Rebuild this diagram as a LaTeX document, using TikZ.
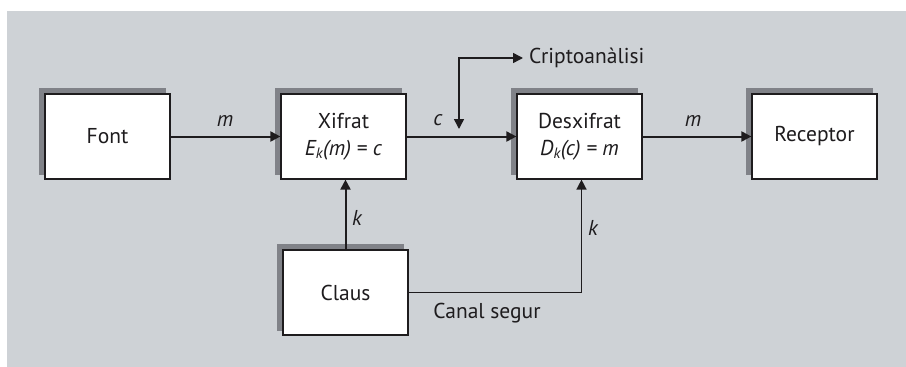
\documentclass[tikz,border=0pt]{standalone}
\usepackage{fontspec}
\setmainfont{PT Sans}
\usetikzlibrary{arrows.meta,backgrounds,calc}
\definecolor{bgc}{RGB}{206,210,214}
\definecolor{shc}{RGB}{128,130,136}
\definecolor{ink}{RGB}{30,28,30}
\begin{document}
\begin{tikzpicture}[x=1pt,y=-1pt,
  box/.style={draw=ink,line width=1.2pt,fill=white,minimum width=125pt,minimum height=85pt,inner sep=0pt,align=center,font=\fontsize{21.5}{27}\selectfont,text=ink},
  lbl/.style={font=\fontsize{21.5}{24}\selectfont\itshape,text=ink,inner sep=0pt},
  txt/.style={font=\fontsize{21.5}{24}\selectfont,text=ink,inner sep=0pt},
  arr/.style={draw=ink,line width=2pt,-{Triangle[length=10pt,width=10pt]}},
  ln/.style={draw=ink,line width=1.5pt}]
\useasboundingbox (0,0) rectangle (906,367);
\node[box] (font) at (107.5,136.5) {Font};
\node[box] (xif) at (343.5,136.5) {Xifrat\\\textit{E\textsubscript{k}(m) = c}};
\node[box] (desx) at (579.5,136.5) {Desxifrat\\\textit{D\textsubscript{k}(c) = m}};
\node[box] (rec) at (814.5,136.5) {Receptor};
\node[box] (claus) at (345.5,292.5) {Claus};
\begin{scope}[on background layer]
  \fill[bgc] (7,11) rectangle (906,367);
  \foreach \b in {font,xif,desx,rec,claus}{
    \fill[shc] ($(\b.north west)+(-5,-5)$) rectangle ($(\b.south east)+(-5,-5)$);
  }
\end{scope}
\node[txt,anchor=west] (cr) at (529,58) {Criptoanàlisi};
\coordinate (cd) at (459,129);
\coordinate (cj) at (459,58);
\draw[arr,line width=1.5pt] (cj) -- (cd);
\draw[arr,line width=1.5pt] ([xshift=-0.7pt]cj) -- ([xshift=-6pt]cr.west);
\draw[arr] (font.east) -- (xif.west);
\draw[arr] (xif.east) -- (desx.west);
\draw[arr] (desx.east) -- (rec.west);
\draw[arr] (claus.north) -- (claus.north |- xif.south);
\draw[arr,line width=1.5pt] (claus.east) -| ([xshift=2pt]desx.south);
\node[lbl] (m1) at (225,121) {m};
\node[lbl] (c1) at (438,120) {c};
\node[lbl] (m2) at (693,121) {m};
\node[lbl] (k1) at (357,218) {k};
\node[lbl] (k2) at (593,228) {k};
\node[txt] (cs) at (487,313) {Canal segur};
\end{tikzpicture}
\end{document}
